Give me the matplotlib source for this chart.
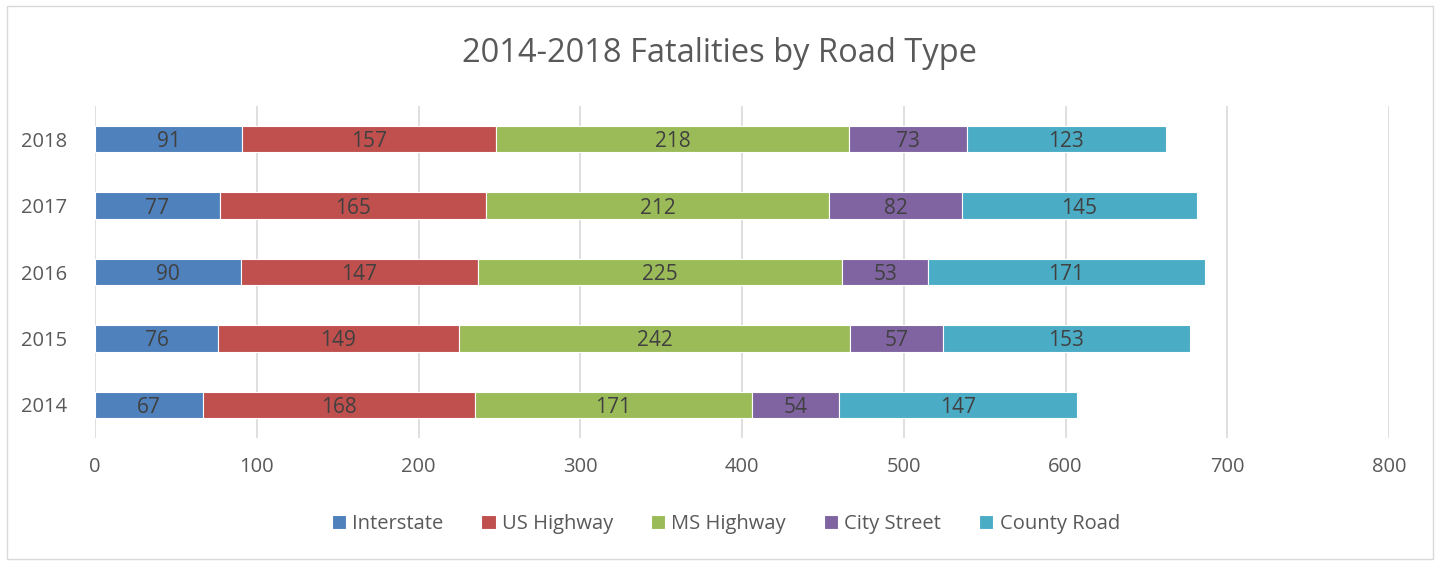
import matplotlib
matplotlib.use("Agg")
import matplotlib.pyplot as plt
from matplotlib.patches import Rectangle

years = ["2014", "2015", "2016", "2017", "2018"]
interstate = [67, 76, 90, 77, 91]
us_highway = [168, 149, 147, 165, 157]
ms_highway = [171, 242, 225, 212, 218]
city_street = [54, 57, 53, 82, 73]
county_road = [147, 153, 171, 145, 123]

series = [
    ("Interstate", interstate, "#4f81bd"),
    ("US Highway", us_highway, "#c0504d"),
    ("MS Highway", ms_highway, "#9bbb59"),
    ("City Street", city_street, "#8064a2"),
    ("County Road", county_road, "#4bacc6"),
]

plt.rcParams["font.family"] = ["Open Sans", "DejaVu Sans"]
text_color = "#595959"

fig = plt.figure(figsize=(14.4, 5.62), dpi=100)
ax = fig.add_axes([0.066, 0.2206, 0.8986, 0.5908])

fig.patches.append(Rectangle((0.005, 0.005), 0.99, 0.985, transform=fig.transFigure,
                             fill=False, edgecolor="#d9d9d9", linewidth=1))

left = [0] * len(years)
for name, vals, color in series:
    bars = ax.barh(years, vals, left=left, height=0.4, color=color, edgecolor="white",
                   linewidth=0.8, label=name, zorder=3)
    labels = ax.bar_label(bars, labels=[str(v) for v in vals], label_type="center",
                          color="#404040", fontsize=15)
    for t in labels:
        t.set_verticalalignment("center_baseline")
    left = [a + b for a, b in zip(left, vals)]

ax.set_xlim(0, 800)
ax.set_ylim(-0.5, 4.5)
ax.set_xticks(range(0, 801, 100))
ax.grid(axis="x", color="#d9d9d9", linewidth=1.2, zorder=0)
for s in ax.spines.values():
    s.set_visible(False)
ax.tick_params(axis="both", length=0, labelsize=14.5, labelcolor=text_color)
ax.tick_params(axis="x", pad=14)
ax.tick_params(axis="y", pad=20)

fig.suptitle("2014-2018 Fatalities by Road Type", y=0.935, fontsize=23.5, color=text_color)

fig.legend(loc="lower center", bbox_to_anchor=(0.504, 0.018), ncol=5, frameon=False,
           fontsize=14.5, labelcolor=text_color, handlelength=0.7, handleheight=0.7,
           handletextpad=0.3, columnspacing=1.9)

fig.savefig("out.png", dpi=100)
